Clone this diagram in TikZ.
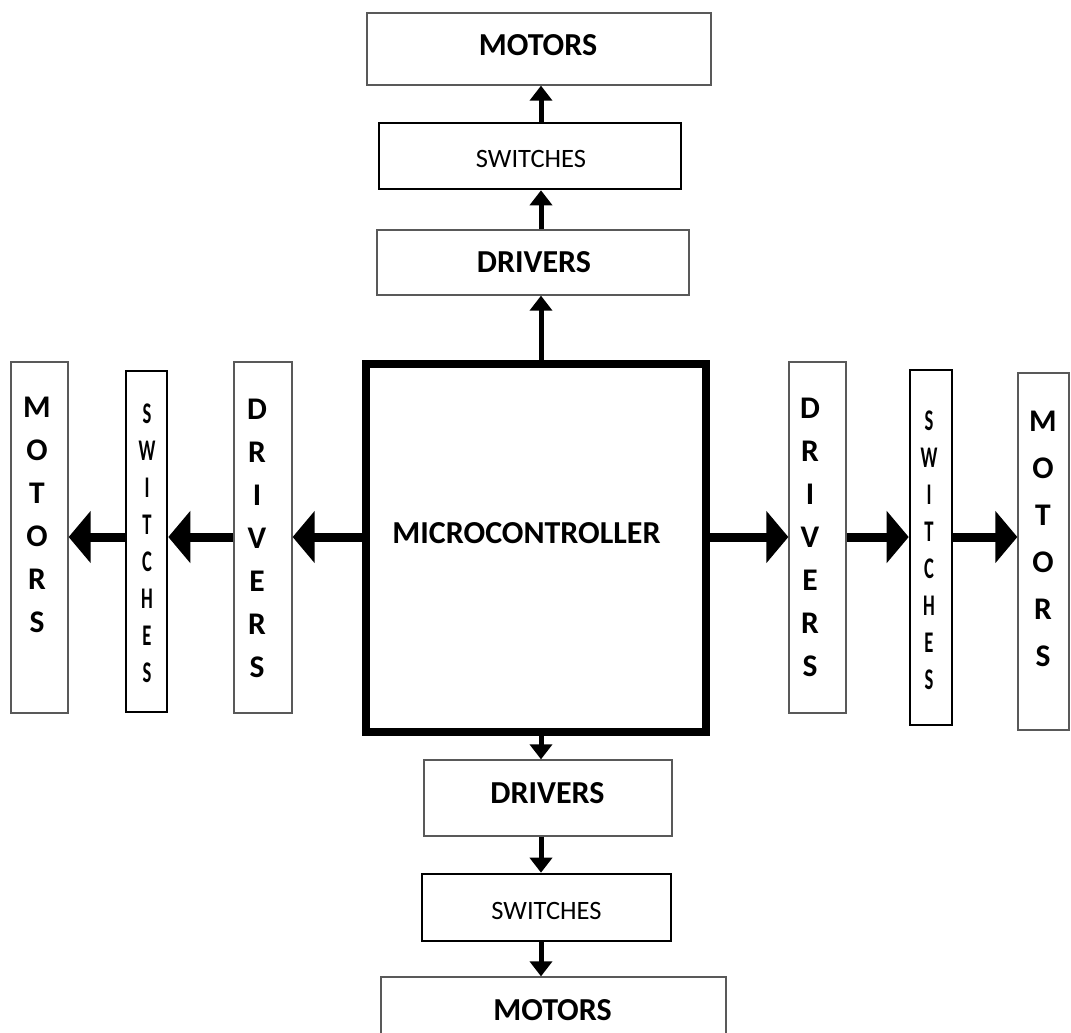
\documentclass[tikz,border=0pt]{standalone}
\usepackage{fontspec}
\setmainfont{Carlito}
\newfontfamily\narrowfont[FakeStretch=0.62]{Carlito}
\usetikzlibrary{arrows.meta}
\begin{document}
\begin{tikzpicture}[x=1pt,y=-1pt,
  thinbox/.style={draw=black!65, line width=1.3pt, inner sep=0pt},
  swbox/.style={draw=black, line width=2.6pt, inner sep=0pt},
  mcubox/.style={draw=black, line width=7.5pt, inner sep=0pt},
  big/.style={font=\fontsize{32}{32}\selectfont\bfseries, inner sep=0pt},
  small/.style={font=\fontsize{26.5}{26.5}\selectfont, inner sep=0pt},
  vbig/.style={font=\fontsize{31.5}{43}\selectfont\bfseries, align=center, inner sep=0pt},
  vsw/.style={font=\fontsize{30}{37}\selectfont\narrowfont\bfseries, align=center, inner sep=0pt},
  vup/.style={-{Triangle[width=22pt,length=15pt]}, line width=5pt},
  hbig/.style={-{Triangle[width=51pt,length=22pt]}, line width=9pt},
]
\clip (0,0) rectangle (1071,1033);
\fill[white] (0,0) rectangle (1071,1033);

% guide coordinates for the connector lines
\coordinate (ax) at (541,0);
\coordinate (ay) at (0,537);

% central block
\node[mcubox, minimum width=340pt, minimum height=368pt] (mcu) at (536,548) {};
\node[big] (mcuL) at (526.5,533) {MICROCONTROLLER};

% upper branch
\node[thinbox, minimum width=344pt, minimum height=72pt] (tm) at (539,49) {};
\node[swbox,   minimum width=302pt, minimum height=66pt] (ts) at (530,156) {};
\node[thinbox, minimum width=312pt, minimum height=65pt] (td) at (533,262.5) {};
\node[big]   (tmL) at (538,45.5) {MOTORS};
\node[small] (tsL) at (531,158.5) {SWITCHES};
\node[big]   (tdL) at (534,262) {DRIVERS};

% lower branch
\node[thinbox, minimum width=248pt, minimum height=76pt] (bd) at (548,798) {};
\node[swbox,   minimum width=249pt, minimum height=67pt] (bs) at (546.5,907.5) {};
\node[thinbox, minimum width=345pt, minimum height=70pt] (bm) at (553.5,1012) {};
\node[big]   (bdL) at (547.5,793) {DRIVERS};
\node[small] (bsL) at (546.5,911) {SWITCHES};
\node[big]   (bmL) at (552.5,1010) {MOTORS};

% left branch
\node[thinbox, minimum width=58pt, minimum height=351pt] (ld) at (263,537.5) {};
\node[swbox,   minimum width=41pt, minimum height=341pt] (ls) at (146.5,541.5) {};
\node[thinbox, minimum width=57pt, minimum height=351pt] (lm) at (39.5,537.5) {};
\node[vbig] (ldL) at (257,538.5) {D\\R\\I\\V\\E\\R\\S};
\node[vsw]  (lsL) at (147,543) {S\\W\\I\\T\\C\\H\\E\\S};
\node[vbig] (lmL) at (37,515) {M\\O\\T\\O\\R\\S};

% right branch
\node[thinbox, minimum width=57pt, minimum height=351pt] (rd) at (817.5,537.5) {};
\node[swbox,   minimum width=42pt, minimum height=355pt] (rs) at (931,547.5) {};
\node[thinbox, minimum width=51pt, minimum height=357pt] (rm) at (1043.5,551.5) {};
\node[vbig] (rdL) at (810,537.5) {D\\R\\I\\V\\E\\R\\S};
\node[vsw]  (rsL) at (929,550) {S\\W\\I\\T\\C\\H\\E\\S};
\node[vbig, font=\fontsize{31.5}{47}\selectfont\bfseries] (rmL) at (1043,538.5) {M\\O\\T\\O\\R\\S};

% connectors
\draw[vup] (mcu.north -| ax) -- (td.south -| ax);
\draw[vup] (td.north -| ax) -- (ts.south -| ax);
\draw[vup] (ts.north -| ax) -- (tm.south -| ax);

\draw[vup] (mcu.south -| ax) -- (bd.north -| ax);
\draw[vup] (bd.south -| ax) -- (bs.north -| ax);
\draw[vup] (bs.south -| ax) -- (bm.north -| ax);

\draw[hbig] (mcu.west |- ay) -- (ld.east |- ay);
\draw[hbig] (ld.west |- ay) -- (ls.east |- ay);
\draw[hbig] (ls.west |- ay) -- (lm.east |- ay);

\draw[hbig] (mcu.east |- ay) -- (rd.west |- ay);
\draw[hbig] (rd.east |- ay) -- (rs.west |- ay);
\draw[hbig] (rs.east |- ay) -- (rm.west |- ay);
\end{tikzpicture}
\end{document}
